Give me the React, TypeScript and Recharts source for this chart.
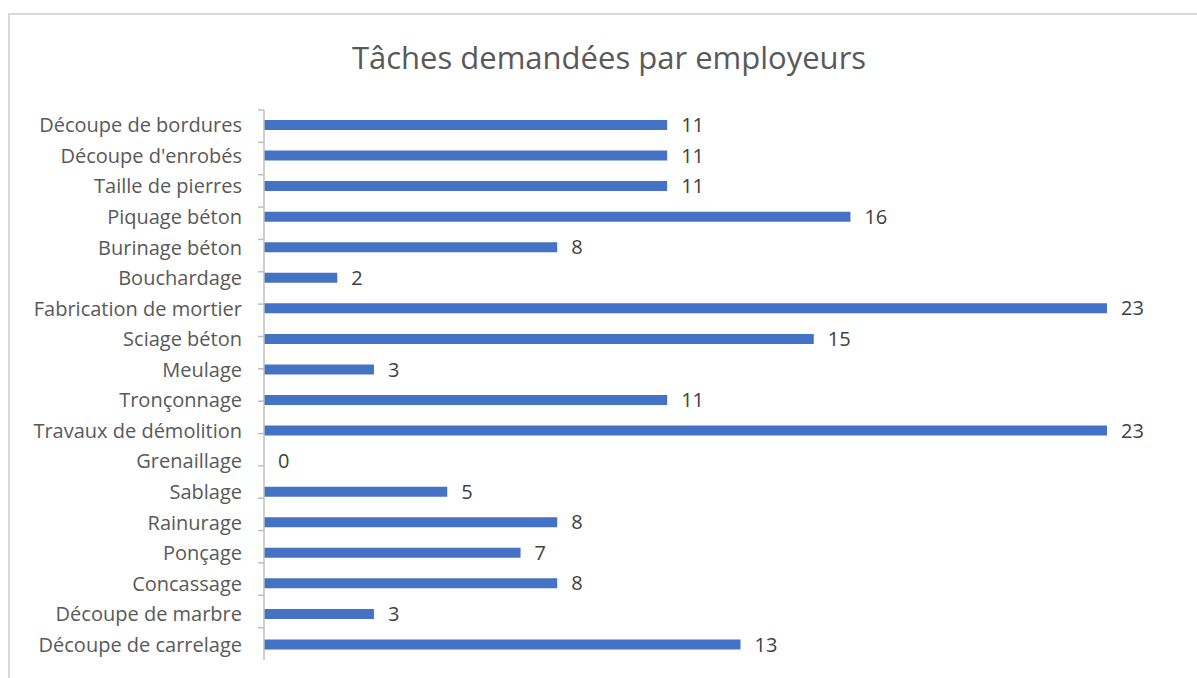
import React from 'react';
import { Bar, BarChart, LabelList, XAxis, YAxis } from 'recharts';

const taches = [
  'Découpe de bordures',
  "Découpe d'enrobés",
  'Taille de pierres',
  'Piquage béton',
  'Burinage béton',
  'Bouchardage',
  'Fabrication de mortier',
  'Sciage béton',
  'Meulage',
  'Tronçonnage',
  'Travaux de démolition',
  'Grenaillage',
  'Sablage',
  'Rainurage',
  'Ponçage',
  'Concassage',
  'Découpe de marbre',
  'Découpe de carrelage',
];

const demandes = [11, 11, 11, 16, 8, 2, 23, 15, 3, 11, 23, 0, 5, 8, 7, 8, 3, 13];

const bandTicks = Array.from({ length: taches.length + 1 }, (_, i) => i);

const data = taches.map((tache, i) => ({ tache, demandes: demandes[i] }));

const FONT = '"Open Sans", "Noto Sans", sans-serif';

export default function App() {
  return (
    <div style={{ position: 'absolute', left: 0, top: 0, width: 1197, height: 678, background: '#fff', fontFamily: FONT, overflow: 'hidden' }}>
      <div
        style={{
          position: 'absolute',
          left: 8,
          top: 13,
          width: 1197,
          height: 700,
          border: '2px solid #d9d9d9',
          boxSizing: 'border-box',
        }}
      />
      <div
        style={{
          position: 'absolute',
          left: 0,
          width: 1218,
          top: 35,
          textAlign: 'center',
          fontSize: 31,
          lineHeight: '44px',
          color: '#595959',
        }}
      >
        Tâches demandées par employeurs
      </div>
      <div style={{ position: 'absolute', left: 0, top: 0 }}>
        <BarChart
          width={1197}
          height={678}
          data={data}
          layout="vertical"
          margin={{ top: 110, right: 90, bottom: 18, left: 0 }}
        >
          <XAxis type="number" domain={[0, 23]} hide />
          <YAxis
            yAxisId="bands"
            type="number"
            domain={[0, taches.length]}
            ticks={bandTicks}
            width={2}
            tick={<g />}
            tickSize={6}
            tickLine={{ stroke: '#bfbfbf', strokeWidth: 1.5 }}
            axisLine={{ stroke: '#bfbfbf', strokeWidth: 1.5 }}
          />
          <YAxis
            yAxisId="cat"
            type="category"
            dataKey="tache"
            width={262}
            axisLine={false}
            tickLine={false}
            tickSize={0}
            tickMargin={20}
            interval={0}
            tick={{ fill: '#595959', fontSize: 20, fontFamily: FONT }}
          />
          <Bar
            yAxisId="cat"
            dataKey="demandes"
            fill="#4472c4"
            barSize={10}
            minPointSize={0.01}
            isAnimationActive={false}
          >
            <LabelList
              dataKey="demandes"
              position="right"
              offset={14}
              fill="#404040"
              style={{ fontSize: 20, fontFamily: FONT }}
            />
          </Bar>
        </BarChart>
      </div>
    </div>
  );
}
